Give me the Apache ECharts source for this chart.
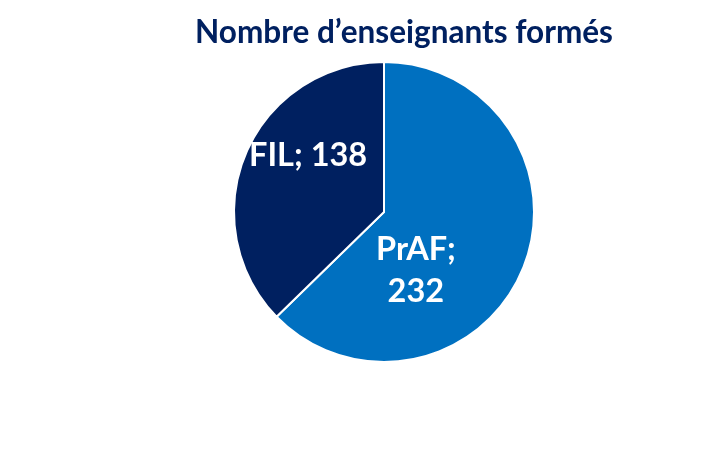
<!DOCTYPE html>
<html><head><meta charset="utf-8">
<script src="https://cdn.jsdelivr.net/npm/echarts@6/dist/echarts.min.js"></script>
<style>html,body{margin:0;padding:0;background:#fff}#c{width:710px;height:453px}</style>
</head><body><div id="c"></div>
<script>
const titleText = "Nombre d\u2019enseignants formés";
const categories = ["PrAF", "FIL"];
const values = [232, 138];
const colors = ["#0070C0", "#002060"];
const labelShift = [[-40, 28], [-4, -26]];

const chart = echarts.init(document.getElementById('c'), null, {renderer: 'canvas'});
chart.setOption({
  animation: false,
  title: {
    text: titleText,
    left: 399, top: 12, textAlign: 'center',
    textStyle: {fontFamily: 'Lato', fontWeight: 'bold', fontSize: 31.5, color: '#002060'}
  },
  series: [{
    type: 'pie',
    center: [384, 212],
    radius: [0, 150],
    startAngle: 90,
    clockwise: true,
    data: categories.map((c, i) => ({name: c, value: values[i], itemStyle: {color: colors[i]}})),
    itemStyle: {borderColor: '#fff', borderWidth: 2},
    label: {
      position: 'inside',
      formatter: p => p.name === 'PrAF' ? p.name + ';\n' + p.value : p.name + '; ' + p.value,
      color: '#fff', fontFamily: 'Lato', fontWeight: 'bold', fontSize: 32.5, lineHeight: 42
    },
    labelLine: {show: false},
    labelLayout: p => ({dx: labelShift[p.dataIndex][0], dy: labelShift[p.dataIndex][1]}),
    emphasis: {disabled: true}
  }]
});
</script></body></html>
